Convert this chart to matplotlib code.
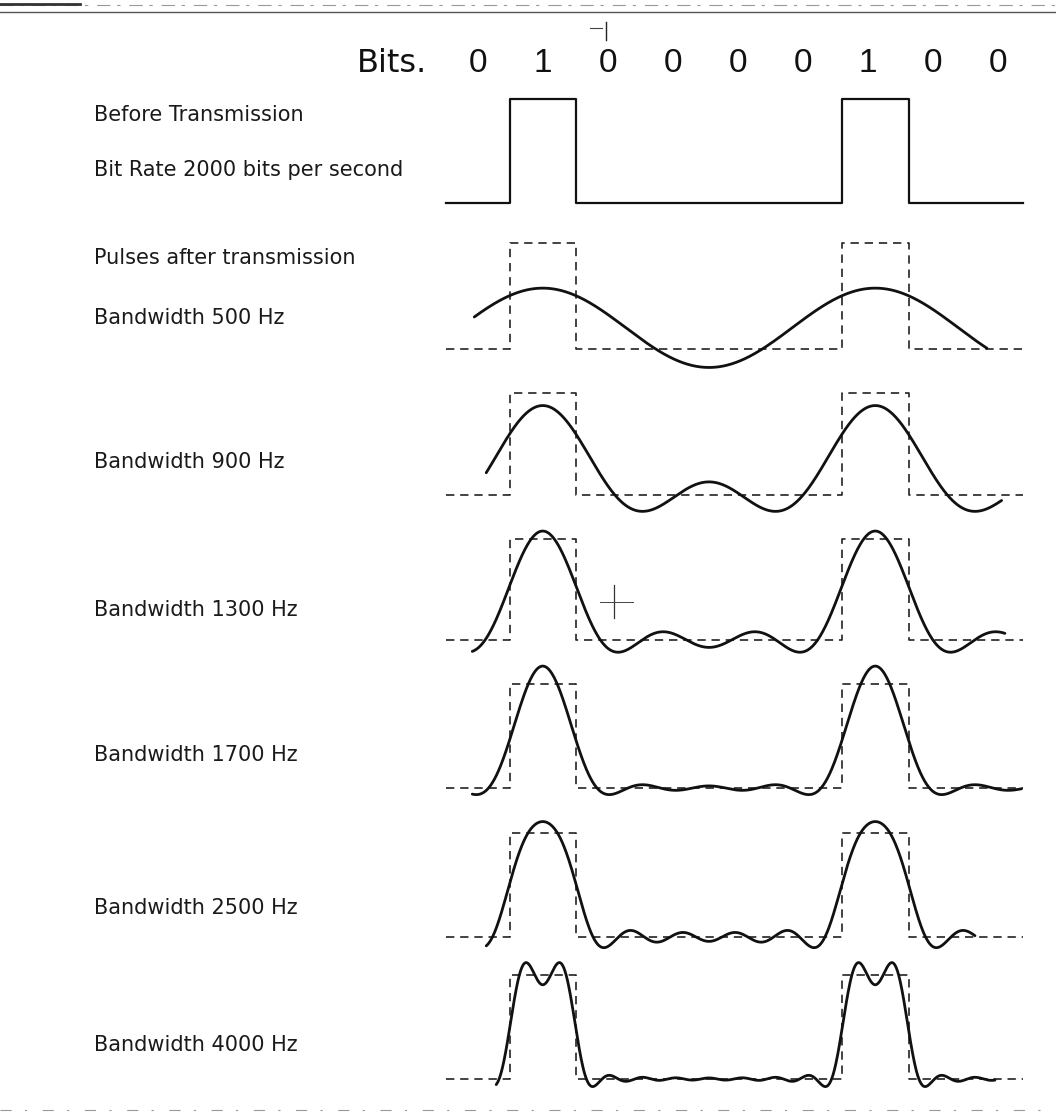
import numpy as np
import matplotlib.pyplot as plt
from matplotlib.transforms import blended_transform_factory

plt.rcParams['font.family'] = ['Liberation Sans', 'DejaVu Sans']

# Data
bits = [0, 1, 0, 0, 0, 0, 1, 0, 0]
bit_rate = 2000            # bits per second
pattern_bits = 5           # 0 1 0 0 0 repeats, so the fundamental is 400 Hz
bandwidths = [500, 900, 1300, 1700, 2500, 4000]
curve_start = [0.47, 0.65, 0.44, 0.44, 0.65, 0.80]   # in bit times
curve_end = [8.18, 8.40, 8.45, 8.70, 8.00, 8.30]

side_labels = ['Before Transmission', 'Bit Rate 2000 bits per second',
               'Pulses after transmission'] + ['Bandwidth %d Hz' % bw for bw in bandwidths]

# Layout in pixels of the 1056x1115 page
W, H = 1056, 1115
x_bit0 = 443
bit_px = 66.5
baselines = [203, 349, 495, 640, 788, 937, 1079]
pulse_px = [104, 106, 102, 101, 104, 104, 104]
label_y = [115, 170, 258, 318, 462, 610, 755, 908, 1045]


def band_limited(t, bw):
    # keep the harmonics of the repeating pattern that fit in the bandwidth
    pat = np.array(bits[:pattern_bits], dtype=float)
    k = np.arange(pattern_bits)
    n_max = int(bw // (bit_rate / pattern_bits))
    y = np.full_like(t, pat.mean())
    for n in range(1, n_max + 1):
        w = 2 * np.pi * n / pattern_bits
        c = np.sum(pat * (np.exp(-1j * w * k) - np.exp(-1j * w * (k + 1)))) / (2j * np.pi * n)
        y += 2 * np.real(c * np.exp(1j * w * t))
    return y


def row_axes(i):
    yb, h = baselines[i], pulse_px[i]
    ax = fig.add_axes([0, 1 - (yb + 0.45 * h) / H, 1, 1.9 * h / H])
    ax.set_xlim(-x_bit0 / bit_px, (W - x_bit0) / bit_px)
    ax.set_ylim(-0.45, 1.45)
    ax.set_facecolor('none')
    ax.axis('off')
    return ax


fig = plt.figure(figsize=(W / 100, H / 100), dpi=100)

# square pulses of the bit stream
edges = np.concatenate([[0.05], np.arange(1, len(bits)), [8.72]])
levels = bits + [bits[-1]]

ax = row_axes(0)
ax.step(edges, levels, where='post', color='#111111', lw=1.6)
tr = blended_transform_factory(ax.transData, fig.transFigure)
for i, b in enumerate(bits):
    ax.text(0.52 + i * 0.978, 1 - 63 / H, str(b), transform=tr, ha='center',
            va='center', fontsize=24, color='#111111')
fig.text(427 / W, 1 - 63 / H, 'Bits.', ha='right', va='center', fontsize=23,
         color='#111111', family='DejaVu Sans')

# pulses after transmission
for i, bw in enumerate(bandwidths):
    ax = row_axes(i + 1)
    ax.step(edges, levels, where='post', color='#222222', lw=1.2,
            dashes=(5, 3.5))
    t = np.linspace(curve_start[i], curve_end[i], 800)
    ax.plot(t, band_limited(t, bw), color='#111111', lw=2.0,
            solid_capstyle='round', clip_on=False)

for text, y in zip(side_labels, label_y):
    fig.text(94 / W, 1 - y / H, text, ha='left', va='center', fontsize=15,
             color='#1a1a1a', family='DejaVu Sans')

# scanner registration marks and page edges
page = fig.add_axes([0, 0, 1, 1])
page.set_xlim(0, W)
page.set_ylim(H, 0)
page.set_facecolor('none')
page.axis('off')
page.plot([606, 606], [22, 40], color='#222222', lw=1.0)
page.plot([590, 602], [28, 28], color='#444444', lw=0.8)
page.plot([614, 614], [585, 618], color='#333333', lw=0.9)
page.plot([600, 633], [602, 602], color='#444444', lw=0.7)
page.axhline(12, color='#555555', lw=1.0)
page.axhline(5, color='#999999', lw=0.8, dashes=(12, 6, 3, 8))
page.plot([0, 80], [4, 4], color='#333333', lw=2.0)
page.axhline(1110, color='#999999', lw=0.8, dashes=(10, 12, 2, 14))

fig.savefig('out.png', dpi=100, facecolor='white')
